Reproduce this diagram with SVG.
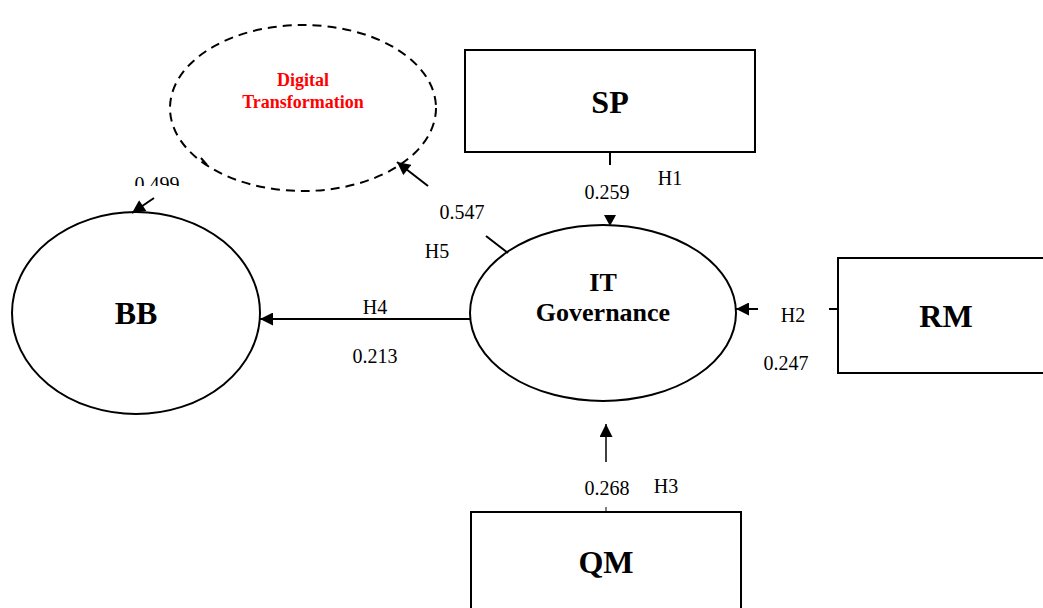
<svg xmlns="http://www.w3.org/2000/svg" width="1043" height="608" viewBox="0 0 1043 608">
<style>
.sh{fill:#fff;stroke:#000;stroke-width:2}
.ln{stroke:#000;stroke-width:2;fill:none}
.lb{font-family:"Liberation Serif","Times New Roman",serif;font-size:20px;fill:#000;text-anchor:middle}
.big{font-family:"Liberation Serif","Times New Roman",serif;font-weight:bold;font-size:32px;fill:#000;text-anchor:middle}
.mid{font-family:"Liberation Serif","Times New Roman",serif;font-weight:bold;font-size:26px;fill:#000;text-anchor:middle}
.red{font-family:"Liberation Serif","Times New Roman",serif;font-weight:bold;font-size:18px;fill:#f00;text-anchor:middle}
</style>
<defs>
<marker id="ah" viewBox="0 0 10 10" refX="10" refY="5" markerWidth="14" markerHeight="13" markerUnits="userSpaceOnUse" orient="auto">
<path d="M0,0 L10,5 L0,10 z" fill="#000"/>
</marker>
<clipPath id="clip499"><rect x="120" y="160" width="70" height="26"/></clipPath>
</defs>
<rect width="1043" height="608" fill="#fff"/>
<g id="node-dt">
<ellipse cx="303" cy="108" rx="133" ry="83" fill="none" stroke="#000" stroke-width="2" stroke-dasharray="9,6"/>
<text class="red" x="303" y="86">Digital</text>
<text class="red" x="303" y="108">Transformation</text>
</g>
<g id="node-sp">
<rect class="sh" x="465" y="50" width="290" height="102"/>
<text class="big" x="610" y="113">SP</text>
</g>
<g id="node-bb">
<ellipse class="sh" cx="136" cy="313" rx="124" ry="101"/>
<text class="big" x="136" y="324">BB</text>
</g>
<g id="node-itg">
<ellipse class="sh" cx="603" cy="313" rx="133" ry="88"/>
<text class="mid" x="603" y="291">IT</text>
<text class="mid" x="603" y="321">Governance</text>
</g>
<g id="node-rm">
<rect class="sh" x="838" y="258" width="210" height="115"/>
<text class="big" x="946" y="327">RM</text>
</g>
<g id="node-qm">
<rect class="sh" x="471" y="512" width="270" height="100"/>
<text class="big" x="606" y="573">QM</text>
</g>
<g id="connectors">
<line class="ln" x1="610" y1="152" x2="610" y2="165"/>
<path d="M604,215 L616,215 L610,226 z" fill="#000"/>
<line class="ln" x1="839" y1="309" x2="829" y2="309"/>
<line class="ln" x1="758" y1="309" x2="736" y2="309" marker-end="url(#ah)"/>
<line x1="606" y1="462" x2="606" y2="424" stroke="#000" stroke-width="1.5" marker-end="url(#ah)"/>
<line x1="606" y1="507" x2="606" y2="512" stroke="#000" stroke-width="1"/>
<line class="ln" x1="470" y1="319" x2="260" y2="319" marker-end="url(#ah)"/>
<line class="ln" x1="508" y1="253" x2="486" y2="236"/>
<line class="ln" x1="428" y1="186" x2="397" y2="162" marker-end="url(#ah)"/>
<line class="ln" x1="201" y1="158" x2="207" y2="165"/>
<line class="ln" x1="154" y1="198" x2="132" y2="213" marker-end="url(#ah)"/>
</g>
<g id="labels">
<text class="lb" x="607" y="199">0.259</text>
<text class="lb" x="670" y="185">H1</text>
<text class="lb" x="793" y="322">H2</text>
<text class="lb" x="786" y="370">0.247</text>
<text class="lb" x="607" y="495">0.268</text>
<text class="lb" x="666" y="493">H3</text>
<text class="lb" x="375" y="314">H4</text>
<text class="lb" x="375" y="363">0.213</text>
<text class="lb" x="462" y="219">0.547</text>
<text class="lb" x="437" y="258">H5</text>
<text class="lb" x="157" y="191" clip-path="url(#clip499)">0.499</text>
</g>
</svg>
